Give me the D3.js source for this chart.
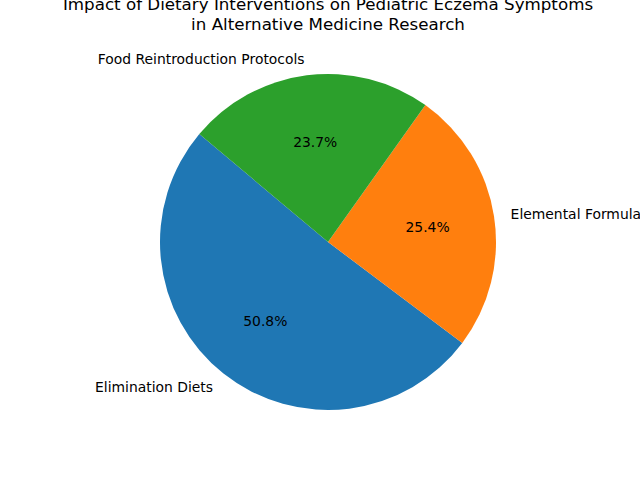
<!DOCTYPE html>
<html><head><meta charset="utf-8">
<script src="https://cdn.jsdelivr.net/npm/d3@7"></script>
<style>body{margin:0;background:#fff}</style></head>
<body><svg id="c" width="640" height="480"></svg>
<script>
const categories = ["Elimination Diets","Elemental Formulas","Food Reintroduction Protocols"];
const values = [30,15,14];
const colors = ["#1f77b4","#ff7f0e","#2ca02c"];
const titleLines = ["Impact of Dietary Interventions on Pediatric Eczema Symptoms","in Alternative Medicine Research"];

const svg = d3.select("#c");
const cx = 328, cy = 242, r = 168;
const start = (90-140)*Math.PI/180;
const pie = d3.pie().sort(null).startAngle(start).endAngle(start-2*Math.PI);
const arcs = pie(values);
const arc = d3.arc().innerRadius(0).outerRadius(r);
const g = svg.append("g").attr("transform",`translate(${cx},${cy})`);
g.selectAll("path").data(arcs).join("path").attr("d",arc).attr("fill",(d,i)=>colors[i]);
const total = d3.sum(values);
const font = "DejaVu Sans, sans-serif";
arcs.forEach((d,i)=>{
  const m = (d.startAngle+d.endAngle)/2;
  const sx = Math.sin(m), sy = -Math.cos(m);
  g.append("text").attr("x",sx*r*1.1).attr("y",sy*r*1.1)
    .attr("text-anchor", sx>=0?"start":"end").attr("dominant-baseline","central")
    .attr("font-family",font).attr("font-size","13.9px").text(categories[i]);
  g.append("text").attr("x",sx*r*0.6).attr("y",sy*r*0.6)
    .attr("text-anchor","middle").attr("dominant-baseline","central")
    .attr("font-family",font).attr("font-size","13.9px")
    .text((values[i]/total*100).toFixed(1)+"%");
});
svg.selectAll("text.t").data(titleLines).join("text").attr("class","t")
  .attr("x",328).attr("y",(d,i)=>10+i*20).attr("text-anchor","middle")
  .attr("font-family",font).attr("font-size","16.7px").text(d=>d);
</script></body></html>
